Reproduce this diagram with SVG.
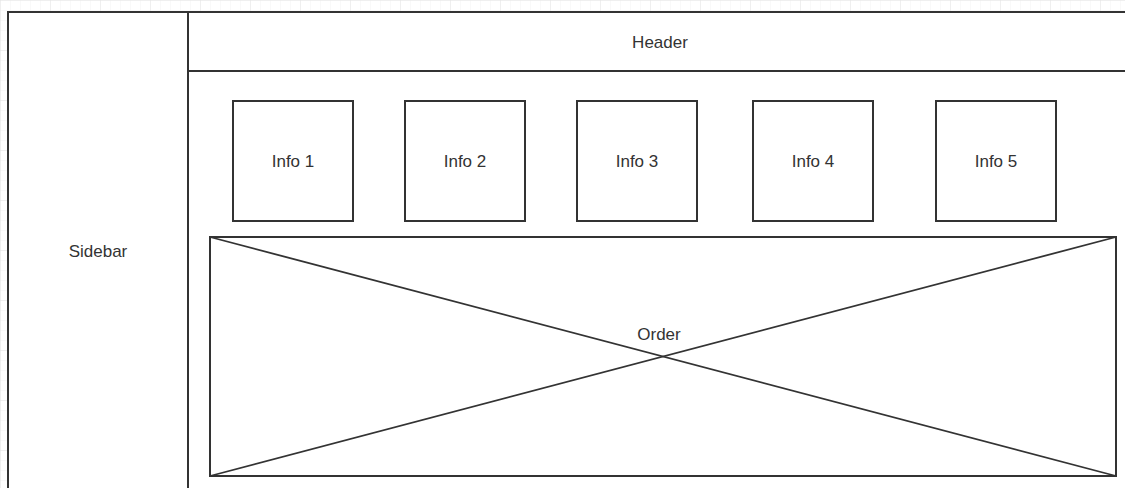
<svg xmlns="http://www.w3.org/2000/svg" width="1125" height="488" viewBox="0 0 1125 488">
  <defs>
    <pattern id="gridMinor" width="10" height="10" patternUnits="userSpaceOnUse">
      <path d="M10 0 L0 0 0 10" fill="none" stroke="#f3f3f3" stroke-width="1"/>
    </pattern>
    <pattern id="grid" width="50" height="50" patternUnits="userSpaceOnUse">
      <rect width="50" height="50" fill="url(#gridMinor)"/>
      <path d="M50 0 L0 0 0 50" fill="none" stroke="#e4e4e4" stroke-width="1"/>
    </pattern>
    <style>
      .box { fill: #ffffff; stroke: #333333; stroke-width: 2; }
      .line { stroke: #333333; stroke-width: 1.8; fill: none; }
      .lbl { font-family: "Liberation Sans", Arial, sans-serif; font-size: 17px; fill: #333333; text-anchor: middle; dominant-baseline: central; }
    </style>
  </defs>
  <rect width="1125" height="488" fill="#ffffff"/>
  <rect width="1125" height="488" fill="url(#grid)"/>

  <g id="sidebar">
    <rect class="box" x="8" y="12" width="180" height="480"/>
    <text class="lbl" x="98" y="251">Sidebar</text>
  </g>
  <g id="header">
    <rect class="box" x="188" y="12" width="945" height="59"/>
    <text class="lbl" x="660" y="42">Header</text>
  </g>
  <g id="content">
    <rect class="box" x="188" y="71" width="945" height="421"/>
  </g>
  <g id="info1">
    <rect class="box" x="233" y="101" width="120" height="120"/>
    <text class="lbl" x="293" y="161">Info 1</text>
  </g>
  <g id="info2">
    <rect class="box" x="405" y="101" width="120" height="120"/>
    <text class="lbl" x="465" y="161">Info 2</text>
  </g>
  <g id="info3">
    <rect class="box" x="577" y="101" width="120" height="120"/>
    <text class="lbl" x="637" y="161">Info 3</text>
  </g>
  <g id="info4">
    <rect class="box" x="753" y="101" width="120" height="120"/>
    <text class="lbl" x="813" y="161">Info 4</text>
  </g>
  <g id="info5">
    <rect class="box" x="936" y="101" width="120" height="120"/>
    <text class="lbl" x="996" y="161">Info 5</text>
  </g>
  <g id="order">
    <rect class="box" x="210" y="237" width="906" height="239"/>
    <g id="connectors">
      <line class="line" x1="210" y1="237" x2="1116" y2="476"/>
      <line class="line" x1="210" y1="476" x2="1116" y2="237"/>
    </g>
    <text class="lbl" x="659" y="334">Order</text>
  </g>
</svg>
